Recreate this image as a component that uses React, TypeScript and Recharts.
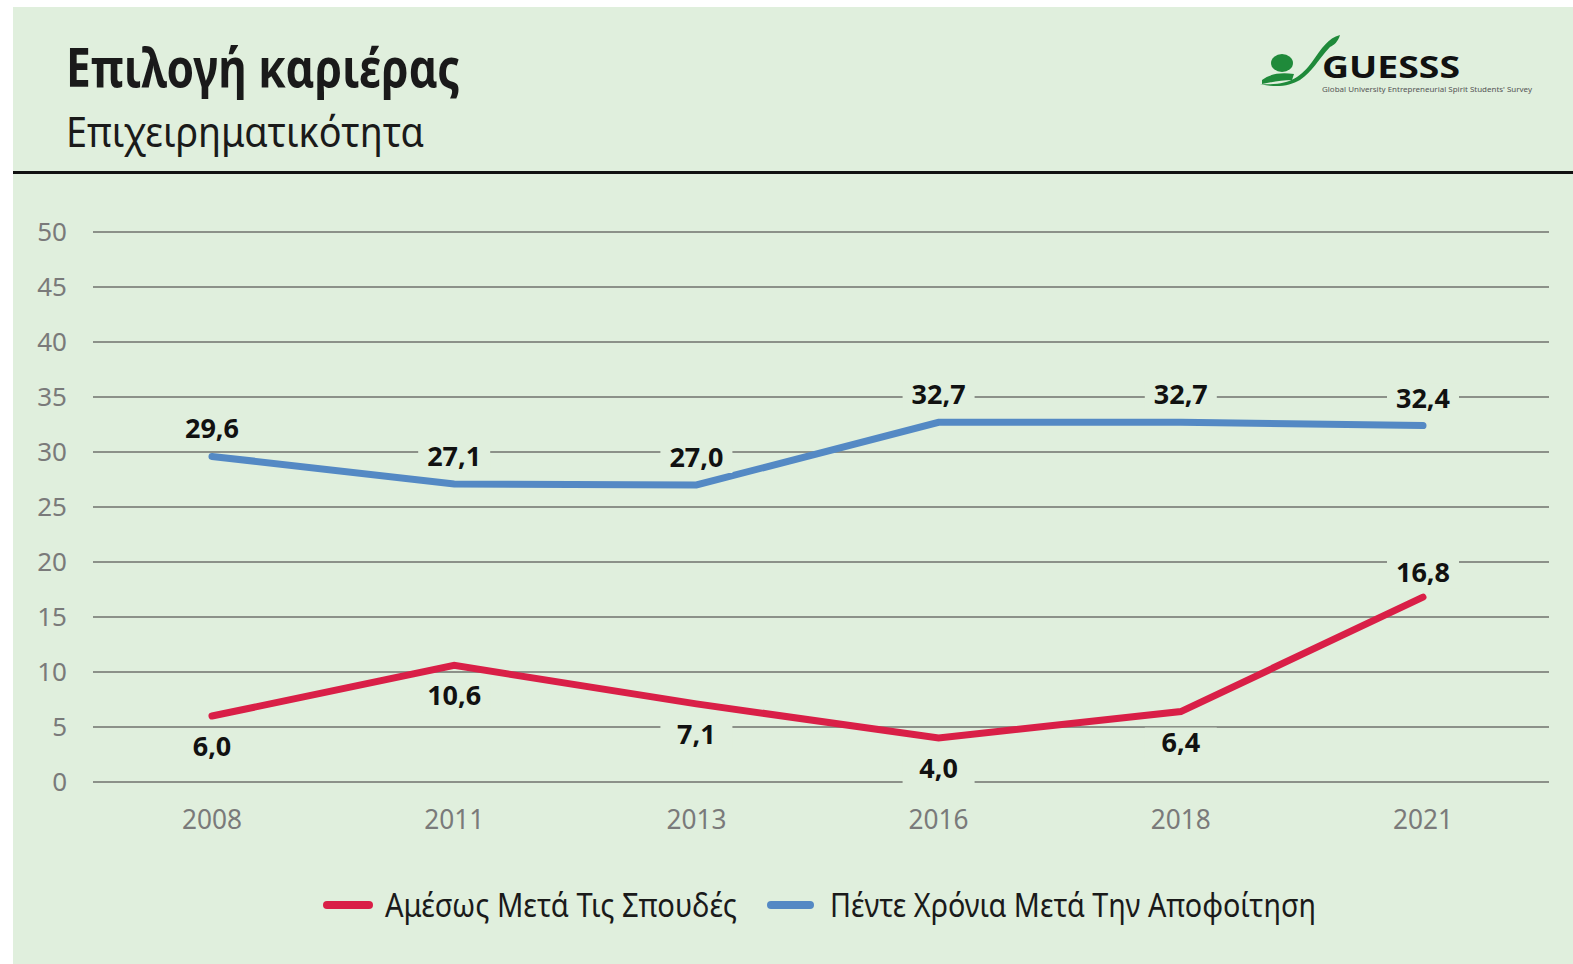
import React from 'react';
import { LineChart, Line, XAxis, YAxis, CartesianGrid, LabelList } from 'recharts';

const years = ['2008', '2011', '2013', '2016', '2018', '2021'];
const immediately = [6.0, 10.6, 7.1, 4.0, 6.4, 16.8];
const fiveYears = [29.6, 27.1, 27.0, 32.7, 32.7, 32.4];
const redLabelAbove = [false, false, false, false, false, true];
const yTicks = [0, 5, 10, 15, 20, 25, 30, 35, 40, 45, 50];

const seriesNames = ['Αμέσως Μετά Τις Σπουδές', 'Πέντε Χρόνια Μετά Την Αποφοίτηση'];
const title = 'Επιλογή καριέρας';
const subtitle = 'Επιχειρηματικότητα';

const data = years.map((y, i) => ({ year: y, a: immediately[i], b: fiveYears[i] }));

const BG = '#e0efdd';
const RED = '#d91f47';
const BLUE = '#5489c4';
const FONT = "'Noto Sans', 'Open Sans', sans-serif";

const fmt = (v: number) => v.toFixed(1).replace('.', ',');

const makeLabel = (placeAbove: (i: number) => boolean, above: number, below: number) => (props: any) => {
  const { x, y, value, index } = props;
  const up = placeAbove(index);
  const cy = up ? y - above : y + below;
  const w = 72;
  const h = 30;
  return (
    <g>
      <rect x={x - w / 2} y={cy - h / 2} width={w} height={h} fill={BG} />
      <text x={x} y={cy + 9} textAnchor="middle" fontFamily={FONT} fontWeight={700} fontSize={27} fill="#111">
        {fmt(value)}
      </text>
    </g>
  );
};

const XTick = (props: any) => {
  const { x, y, payload } = props;
  return (
    <text x={x} y={y + 41} textAnchor="middle" fontFamily={FONT} fontSize={28} fill="#7a7a7a" textLength={60} lengthAdjust="spacingAndGlyphs">
      {payload.value}
    </text>
  );
};

const YTick = (props: any) => {
  const { x, y, payload } = props;
  return (
    <text x={x} y={y + 9} textAnchor="end" fontFamily={FONT} fontSize={26} fill="#7a7a7a">
      {payload.value}
    </text>
  );
};

const LegendOverlay = () => (
  <svg width={1573} height={60} style={{ position: 'absolute', left: 0, top: 874 }}>
    <line x1={327} y1={31} x2={369} y2={31} stroke={RED} strokeWidth={8} strokeLinecap="round" />
    <text x={385} y={43} fontFamily={FONT} fontSize={33} fill="#1a1a1a" textLength={352} lengthAdjust="spacingAndGlyphs">
      {seriesNames[0]}
    </text>
    <line x1={771} y1={31} x2={810} y2={31} stroke={BLUE} strokeWidth={8} strokeLinecap="round" />
    <text x={830} y={43} fontFamily={FONT} fontSize={33} fill="#1a1a1a" textLength={486} lengthAdjust="spacingAndGlyphs">
      {seriesNames[1]}
    </text>
  </svg>
);

const Header = () => (
  <svg width={1573} height={200} style={{ position: 'absolute', left: 0, top: 0 }}>
    <text x={66} y={87} fontFamily={FONT} fontWeight={700} fontSize={53} fill="#1a1a1a" textLength={394} lengthAdjust="spacingAndGlyphs">
      {title}
    </text>
    <text x={66} y={147} fontFamily={FONT} fontSize={41} fill="#1a1a1a" textLength={358} lengthAdjust="spacingAndGlyphs">
      {subtitle}
    </text>
    <rect x={13} y={171} width={1560} height={3} fill="#111" />
    <g>
      <path d="M1260,84 C1288,86 1300,78 1312,62 C1322,48 1328,38 1340,35 C1338,42 1334,45 1330,47 C1318,60 1312,72 1300,80 C1290,86 1276,88 1260,84 Z" fill="#1f8a3a" />
      <ellipse cx={1282} cy={63} rx={11} ry={9} fill="#1f8a3a" />
      <path d="M1262,80 C1270,74 1280,72 1294,74 L1292,80 C1282,80 1272,82 1262,84 Z" fill="#1f8a3a" />
      <text x={1322} y={78} fontFamily={FONT} fontWeight={700} fontSize={31} fill="#111" textLength={138} lengthAdjust="spacingAndGlyphs">GUESSS</text>
      <text x={1322} y={92} fontFamily={FONT} fontSize={7} fill="#555" textLength={210} lengthAdjust="spacingAndGlyphs">Global University Entrepreneurial Spirit Students' Survey</text>
    </g>
  </svg>
);

export default function App() {
  return (
    <div style={{ position: 'absolute', left: 0, top: 0, width: 1573, height: 964, background: '#fff' }}>
      <div style={{ position: 'absolute', left: 13, top: 7, width: 1560, height: 957, background: BG }} />
      <Header />
      <div style={{ position: 'absolute', left: 0, top: 0 }}>
        <LineChart width={1573} height={964} data={data} margin={{ top: 232, right: 24, bottom: 122, left: 0 }}>
          <CartesianGrid vertical={false} stroke="#8c9189" strokeWidth={2} />
          <XAxis
            dataKey="year"
            axisLine={false}
            tickLine={false}
            tickSize={0}
            tickMargin={6}
            height={60}
            padding={{ left: 119, right: 126 }}
            tick={<XTick />}
            interval={0}
          />
          <YAxis
            domain={[0, 50]}
            ticks={yTicks}
            axisLine={false}
            tickLine={false}
            tickSize={0}
            tickMargin={26}
            width={93}
            tick={<YTick />}
            interval={0}
          />
          <Line dataKey="b" name={seriesNames[1]} stroke={BLUE} strokeWidth={7} strokeLinecap="round" dot={false} isAnimationActive={false} type="linear">
            <LabelList dataKey="b" content={makeLabel(() => true, 27, 0)} />
          </Line>
          <Line dataKey="a" name={seriesNames[0]} stroke={RED} strokeWidth={7} strokeLinecap="round" dot={false} isAnimationActive={false} type="linear">
            <LabelList dataKey="a" content={makeLabel((i) => redLabelAbove[i], 24, 31)} />
          </Line>
        </LineChart>
      </div>
      <LegendOverlay />
    </div>
  );
}
